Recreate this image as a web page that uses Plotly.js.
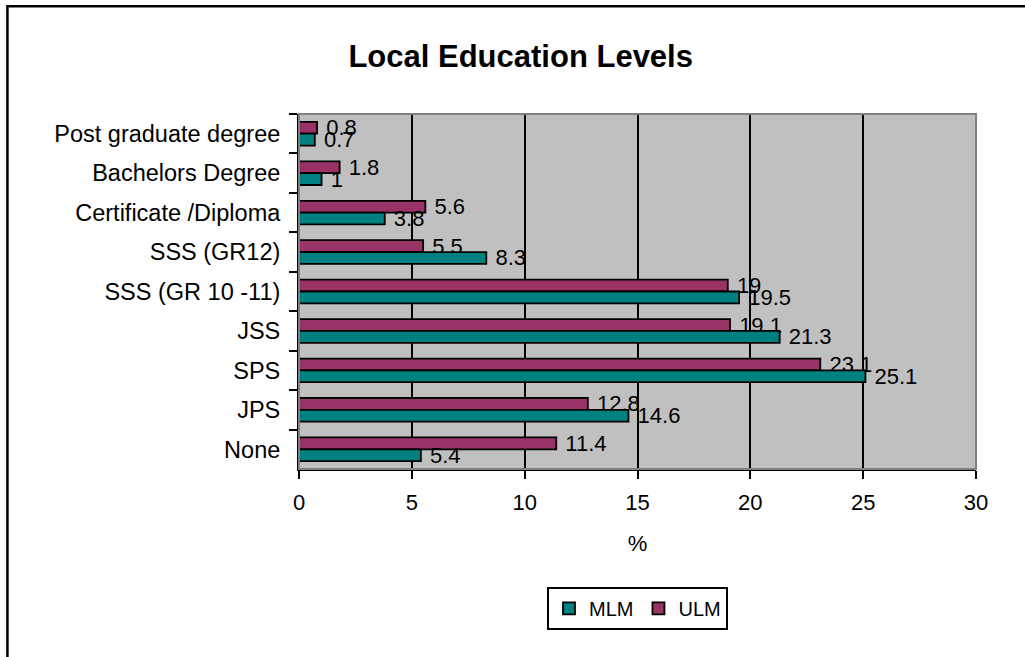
<!DOCTYPE html>
<html>
<head>
<meta charset="utf-8">
<script src="https://cdn.plot.ly/plotly-3.0.1.min.js"></script>
<style>
html,body{margin:0;padding:0;background:#fff;}
#chart{width:1025px;height:657px;}
</style>
</head>
<body>
<div id="chart"></div>
<script>
// categories listed top to bottom as they appear in the chart
const categories = ['Post graduate degree','Bachelors Degree','Certificate /Diploma','SSS (GR12)','SSS (GR 10 -11)','JSS','SPS','JPS','None'];
const mlm = [0.7, 1, 3.8, 8.3, 19.5, 21.3, 25.1, 14.6, 5.4];
const ulm = [0.8, 1.8, 5.6, 5.5, 19, 19.1, 23.1, 12.8, 11.4];
const xTicks = [0, 5, 10, 15, 20, 25, 30];

const font = 'Liberation Sans, Arial, sans-serif';

const common = {
  type: 'bar',
  orientation: 'h',
  y: categories,
  texttemplate: '\u00A0%{x}',
  textposition: 'outside',
  constraintext: 'none',
  cliponaxis: false,
  textfont: {family: font, size: 22, color: '#000'},
  hoverinfo: 'skip'
};

// ULM first so it sits above MLM on the reversed category axis
const traces = [
  Object.assign({}, common, {name: 'ULM', x: ulm, marker: {color: '#993366', line: {color: '#000', width: 1.8}}}),
  Object.assign({}, common, {name: 'MLM', x: mlm, marker: {color: '#008080', line: {color: '#000', width: 1.8}}})
];

const layout = {
  width: 1025, height: 657,
  margin: {l: 298.5, r: 48.5, t: 113.5, b: 188},
  paper_bgcolor: '#fff',
  plot_bgcolor: '#C0C0C0',
  barmode: 'group',
  bargap: 0.4,
  bargroupgap: 0,
  font: {family: font, color: '#000', size: 22},
  title: {
    text: '<b>Local Education Levels</b>',
    font: {family: font, size: 31, color: '#000'},
    xref: 'container', yref: 'container',
    x: 0.508, xanchor: 'center',
    y: 1 - 56/657, yanchor: 'middle'
  },
  xaxis: {
    range: [0, 30],
    tickvals: xTicks,
    ticktext: xTicks.map(String),
    showgrid: true, gridcolor: '#000', gridwidth: 2,
    zeroline: false,
    showline: true, linecolor: '#000', linewidth: 2,
    ticks: 'outside', ticklen: 8, tickcolor: '#000', tickwidth: 2,
    ticklabelstandoff: 5,
    tickfont: {family: font, size: 22, color: '#000'},
    title: {text: '%', font: {family: font, size: 22, color: '#000'}, standoff: 21},
    fixedrange: true
  },
  yaxis: {
    type: 'category',
    categoryorder: 'array', categoryarray: categories,
    autorange: 'reversed',
    showgrid: false, zeroline: false,
    showline: true, linecolor: '#000', linewidth: 2,
    ticks: 'outside', tickson: 'boundaries', ticklen: 8, tickcolor: '#000', tickwidth: 2,
    ticklabelstandoff: 12,
    tickfont: {family: font, size: 23.5, color: '#000'},
    fixedrange: true
  },
  legend: {
    orientation: 'h',
    x: 0.5, xanchor: 'center',
    y: (469 - 587) / 355.5, yanchor: 'top',
    bgcolor: '#fff', bordercolor: '#000', borderwidth: 2,
    font: {family: font, size: 20, color: '#000'},
    traceorder: 'reversed',
    itemwidth: 30
  },
  shapes: [
    {type: 'rect', xref: 'paper', yref: 'paper', x0: 0, x1: 1, y0: 0, y1: 1,
     line: {color: '#808080', width: 2}, fillcolor: 'rgba(0,0,0,0)', layer: 'above'},
    {type: 'rect', xref: 'paper', yref: 'paper',
     x0: (6.5 - 298.5) / 678, x1: 4, y0: -4, y1: (469 - 5.5) / 355.5,
     line: {color: '#000', width: 2.5}, fillcolor: 'rgba(0,0,0,0)', layer: 'above'}
  ],
  showlegend: true
};

Plotly.newPlot('chart', traces, layout, {displayModeBar: false, staticPlot: true});
</script>
</body>
</html>
